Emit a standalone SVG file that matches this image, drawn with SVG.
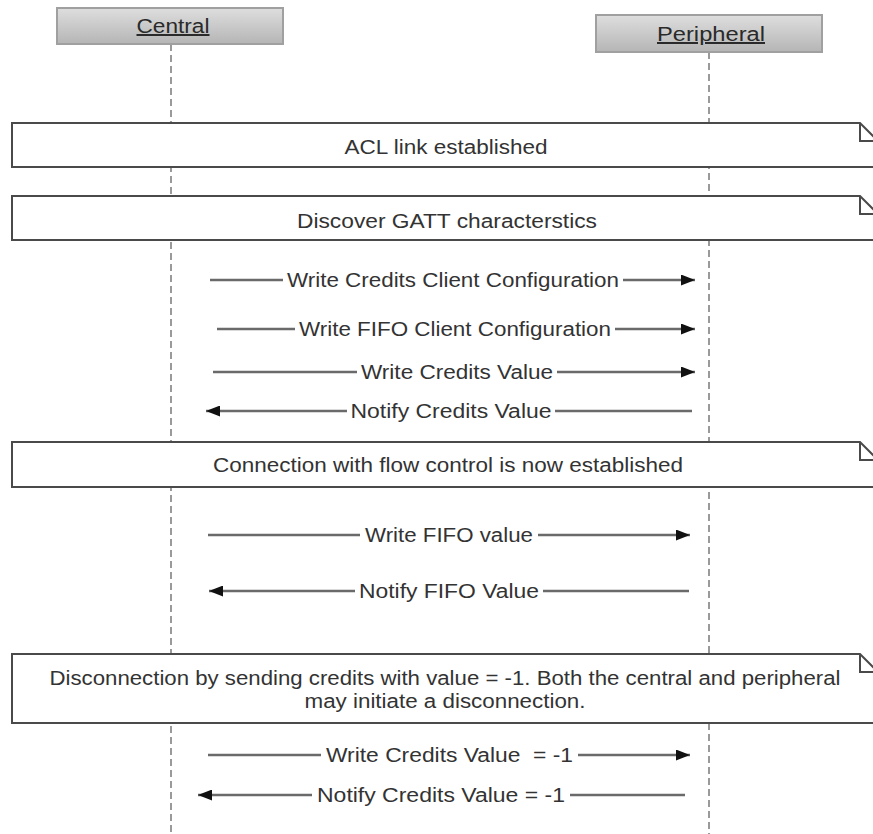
<svg xmlns="http://www.w3.org/2000/svg" width="873" height="834" viewBox="0 0 873 834">
  <defs>
    <linearGradient id="hdrFill" x1="0" y1="0" x2="0" y2="1">
      <stop offset="0" stop-color="#dedede"/>
      <stop offset="1" stop-color="#b5b5b5"/>
    </linearGradient>
    <marker id="arrow" viewBox="0 0 14 11" refX="14" refY="5.5" markerWidth="14" markerHeight="11" markerUnits="userSpaceOnUse" orient="auto-start-reverse">
      <path d="M0,0 L14,5.5 L0,11 z" fill="#111"/>
    </marker>
  </defs>
  <style>
    .lifeline { stroke: #9a9a9a; stroke-width: 2; stroke-dasharray: 7 4; fill: none; }
    .hdr { fill: url(#hdrFill); stroke: #a0a0a0; stroke-width: 2; }
    .hdrText { font-family: "Liberation Sans", Arial, sans-serif; font-size: 20px; fill: #2a2a2a; text-anchor: middle; text-decoration: underline; }
    .note { fill: #fff; stroke: #4a4a4a; stroke-width: 2; }
    .fold { fill: none; stroke: #4a4a4a; stroke-width: 2; }
    .txt { font-family: "Liberation Sans", Arial, sans-serif; font-size: 20px; fill: #333; text-anchor: middle; }
    .msg { stroke: #6a6a6a; stroke-width: 2.5; fill: none; }
  </style>
  <rect width="873" height="834" fill="#fff"/>

  <!-- lifelines -->
  <g id="lifelines">
    <line class="lifeline" x1="171" y1="44" x2="171" y2="834"/>
    <line class="lifeline" x1="709" y1="52" x2="709" y2="834"/>
  </g>

  <!-- participants -->
  <g id="central">
    <rect class="hdr" x="57" y="8" width="226" height="36"/>
    <text class="hdrText" x="173" y="33" textLength="73" lengthAdjust="spacingAndGlyphs">Central</text>
  </g>
  <g id="peripheral">
    <rect class="hdr" x="596" y="15" width="226" height="37"/>
    <text class="hdrText" x="711" y="41" textLength="108" lengthAdjust="spacingAndGlyphs">Peripheral</text>
  </g>

  <!-- notes spanning both lifelines -->
  <g id="note-acl">
    <path class="note" d="M885,167 H12 V123 H860 L885,148"/>
    <path class="fold" d="M860,123 V141 H885"/>
    <text class="txt" x="446" y="154" textLength="203" lengthAdjust="spacingAndGlyphs">ACL link established</text>
  </g>
  <g id="note-discover">
    <path class="note" d="M885,240 H12 V196 H860 L885,221"/>
    <path class="fold" d="M860,196 V214 H885"/>
    <text class="txt" x="447" y="228" textLength="300" lengthAdjust="spacingAndGlyphs">Discover GATT characterstics</text>
  </g>
  <g id="note-flow">
    <path class="note" d="M885,487 H12 V442 H860 L885,467"/>
    <path class="fold" d="M860,442 V460 H885"/>
    <text class="txt" x="448" y="472" textLength="470" lengthAdjust="spacingAndGlyphs">Connection with flow control is now established</text>
  </g>
  <g id="note-disconnect">
    <path class="note" d="M885,723 H12 V654 H860 L885,679"/>
    <path class="fold" d="M860,654 V672 H885"/>
    <text class="txt" x="445" y="685" textLength="791" lengthAdjust="spacingAndGlyphs">Disconnection by sending credits with value = -1. Both the central and peripheral</text>
    <text class="txt" x="445" y="708" textLength="281" lengthAdjust="spacingAndGlyphs">may initiate a disconnection.</text>
  </g>

  <!-- messages -->
  <g id="connectors">
    <line class="msg" x1="210" y1="280" x2="283" y2="280"/>
    <line class="msg" x1="623" y1="280" x2="695" y2="280" marker-end="url(#arrow)"/>

    <line class="msg" x1="217" y1="329" x2="295" y2="329"/>
    <line class="msg" x1="615" y1="329" x2="695" y2="329" marker-end="url(#arrow)"/>

    <line class="msg" x1="213" y1="372" x2="357" y2="372"/>
    <line class="msg" x1="557" y1="372" x2="695" y2="372" marker-end="url(#arrow)"/>

    <line class="msg" x1="347" y1="411" x2="206" y2="411" marker-end="url(#arrow)"/>
    <line class="msg" x1="555" y1="411" x2="692" y2="411"/>

    <line class="msg" x1="208" y1="535" x2="360" y2="535"/>
    <line class="msg" x1="538" y1="535" x2="690" y2="535" marker-end="url(#arrow)"/>

    <line class="msg" x1="355" y1="591" x2="209" y2="591" marker-end="url(#arrow)"/>
    <line class="msg" x1="543" y1="591" x2="689" y2="591"/>

    <line class="msg" x1="208" y1="755" x2="321" y2="755"/>
    <line class="msg" x1="578" y1="755" x2="690" y2="755" marker-end="url(#arrow)"/>

    <line class="msg" x1="312" y1="795" x2="198" y2="795" marker-end="url(#arrow)"/>
    <line class="msg" x1="570" y1="795" x2="685" y2="795"/>
  </g>

  <!-- message labels -->
  <g id="labels">
    <text class="txt" x="453" y="287" textLength="332" lengthAdjust="spacingAndGlyphs">Write Credits Client Configuration</text>
    <text class="txt" x="455" y="336" textLength="312" lengthAdjust="spacingAndGlyphs">Write FIFO Client Configuration</text>
    <text class="txt" x="457" y="379" textLength="192" lengthAdjust="spacingAndGlyphs">Write Credits Value</text>
    <text class="txt" x="451" y="418" textLength="201" lengthAdjust="spacingAndGlyphs">Notify Credits Value</text>
    <text class="txt" x="449" y="542" textLength="168" lengthAdjust="spacingAndGlyphs">Write FIFO value</text>
    <text class="txt" x="449" y="598" textLength="180" lengthAdjust="spacingAndGlyphs">Notify FIFO Value</text>
    <text class="txt" x="449.5" y="762" textLength="247" lengthAdjust="spacingAndGlyphs" xml:space="preserve">Write Credits Value  = -1</text>
    <text class="txt" x="441" y="802" textLength="248" lengthAdjust="spacingAndGlyphs">Notify Credits Value = -1</text>
  </g>
</svg>
